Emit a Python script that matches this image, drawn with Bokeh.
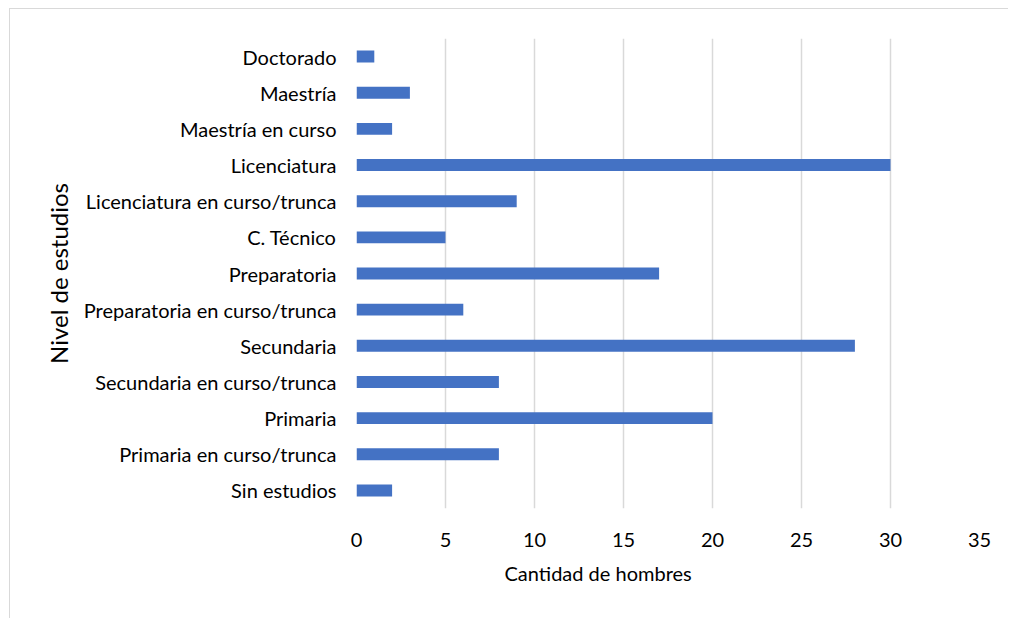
from bokeh.plotting import figure
from bokeh.models import ColumnDataSource, FixedTicker, Title
from bokeh.embed import file_html
from bokeh.resources import INLINE

categories = [
    "Sin estudios",
    "Primaria en curso/trunca",
    "Primaria",
    "Secundaria en curso/trunca",
    "Secundaria",
    "Preparatoria en curso/trunca",
    "Preparatoria",
    "C. Técnico",
    "Licenciatura en curso/trunca",
    "Licenciatura",
    "Maestría en curso",
    "Maestría",
    "Doctorado",
]
values = [2, 8, 20, 8, 28, 6, 17, 5, 9, 30, 2, 3, 1]
x_ticks = [0, 5, 10, 15, 20, 25, 30, 35]
x_title = "Cantidad de hombres"
y_title = "Nivel de estudios"

FONT = "Lato"

src = ColumnDataSource(dict(cat=categories, val=values))

p = figure(
    y_range=categories,
    x_range=(0, 35),
    width=999,
    height=610,
    output_backend="svg",
    toolbar_location=None,
    min_border_left=346,
    min_border_top=29,
    min_border_right=30,
    min_border_bottom=111,
    outline_line_color=None,
)
p.styles = {
    "margin-left": "9px",
    "margin-top": "8px",
    "border-left": "1.5px solid #d9d9d9",
    "border-top": "1.5px solid #d9d9d9",
}

p.hbar(y="cat", right="val", left=0, height=0.33, source=src,
       fill_color="#4472C4", line_color=None)

p.xaxis.ticker = FixedTicker(ticks=x_ticks)
p.xaxis.axis_line_color = None
p.xaxis.major_tick_line_color = None
p.xaxis.minor_tick_line_color = None
p.xaxis.major_label_standoff = 18
p.xaxis.major_label_text_font = FONT
p.xaxis.major_label_text_font_size = "20px"
p.xaxis.major_label_text_color = "#000000"

# x-axis title, placed left of centre as in the original chart
p.add_layout(Title(
    text=x_title, align="left", offset=148, standoff=18,
    text_font=FONT, text_font_size="20px", text_font_style="normal",
    text_color="#000000",
), "below")

p.yaxis.axis_line_color = None
p.yaxis.major_tick_line_color = None
p.yaxis.minor_tick_line_color = None
p.yaxis.major_label_standoff = 14
p.yaxis.major_label_text_font = FONT
p.yaxis.major_label_text_font_size = "20px"
p.yaxis.major_label_text_color = "#000000"
p.yaxis.axis_label = y_title
p.yaxis.axis_label_text_font = FONT
p.yaxis.axis_label_text_font_size = "24px"
p.yaxis.axis_label_text_font_style = "normal"
p.yaxis.axis_label_text_color = "#000000"
p.yaxis.axis_label_standoff = 8

p.xgrid.grid_line_color = "#d9d9d9"
p.xgrid.grid_line_width = 1.5
p.ygrid.grid_line_color = None

open("out.html", "w").write(file_html(p, INLINE))
